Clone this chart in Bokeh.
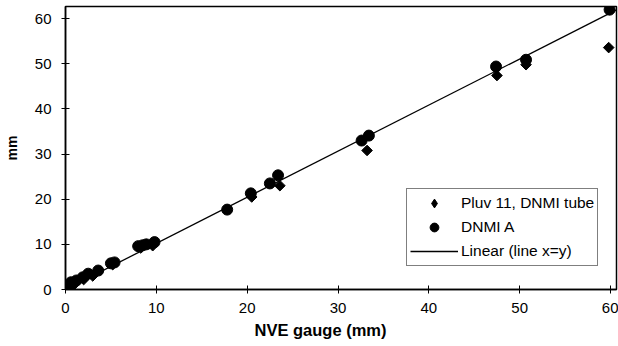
import numpy as np
from bokeh.plotting import figure
from bokeh.models import Legend, LegendItem, Range1d, FixedTicker, Title
from bokeh.embed import file_html
from bokeh.resources import INLINE

# DNMI A (circles)
dnmi_x = [0.1, 0.6, 1.2, 1.9, 2.5, 3.6, 5.0, 5.4, 8.0, 8.5, 8.9, 9.8, 17.8, 20.4, 22.5, 23.4, 32.6, 33.4, 47.4, 50.7, 59.9]
dnmi_y = [0.1, 1.6, 2.0, 2.7, 3.5, 4.2, 5.8, 6.0, 9.6, 9.8, 10.0, 10.5, 17.7, 21.3, 23.5, 25.3, 33.0, 34.1, 49.4, 50.9, 62.0]

# Pluv 11, DNMI tube (diamonds)
pluv_x = [0.4, 1.0, 2.0, 3.0, 5.2, 8.3, 9.6, 20.5, 23.6, 33.2, 47.5, 50.7, 59.8]
pluv_y = [0.2, 1.2, 2.2, 3.0, 5.5, 9.2, 9.7, 20.5, 23.0, 30.8, 47.4, 49.8, 53.6]

# Linear reference line
line_x = [0.0, 60.6]
line_y = [0.0, 61.9]

x_ticks = [0, 10, 20, 30, 40, 50, 60]
y_ticks = [0, 10, 20, 30, 40, 50, 60]

x_title = "NVE gauge (mm)"
y_title = "mm"
labels = ["Pluv 11, DNMI tube", "DNMI A", "Linear (line x=y)"]

p = figure(width=618, height=346, output_backend="svg", toolbar_location=None,
           x_range=Range1d(0, 60.66), y_range=Range1d(0, 62.7),
           min_border_left=64, min_border_right=2, min_border_top=6, min_border_bottom=57)

p.xgrid.visible = False
p.ygrid.visible = False
p.outline_line_color = "black"
p.outline_line_width = 1.5

r_line = p.line(line_x, line_y, line_color="black", line_width=1.3)
r_pluv = p.scatter(pluv_x, pluv_y, marker="square", angle=np.pi / 4, size=7.5,
                   fill_color="black", line_color="black")
# same series, drawn at zero size: gives the legend a diamond-shaped sample
r_pluv_key = p.scatter(pluv_x, pluv_y, marker="diamond", size=0,
                       fill_color="black", line_color="black")
r_dnmi = p.scatter(dnmi_x, dnmi_y, marker="circle", size=11,
                   fill_color="black", line_color="black")

font = "Liberation Sans"
for ax, ticks in ((p.xaxis[0], x_ticks), (p.yaxis[0], y_ticks)):
    ax.ticker = FixedTicker(ticks=ticks)
    ax.minor_tick_line_color = None
    ax.major_tick_in = 4
    ax.major_tick_out = 4
    ax.axis_line_width = 1.5
    ax.axis_line_color = "black"
    ax.major_tick_line_color = "black"
    ax.major_label_text_font = font
    ax.major_label_text_font_size = "15px"
    ax.major_label_text_color = "black"

p.xaxis.major_label_standoff = 9
p.yaxis.major_label_standoff = 10

p.yaxis.axis_label = y_title
p.yaxis.axis_label_text_font = font
p.yaxis.axis_label_text_font_size = "14px"
p.yaxis.axis_label_text_font_style = "bold"
p.yaxis.axis_label_text_color = "black"
p.yaxis.axis_label_standoff = 12

p.add_layout(Title(text=x_title, align="left", offset=189, standoff=7,
                   text_font=font, text_font_size="16.5px", text_font_style="bold",
                   text_color="black"), "below")

legend = Legend(items=[
    LegendItem(label=labels[0], renderers=[r_pluv_key]),
    LegendItem(label=labels[1], renderers=[r_dnmi]),
    LegendItem(label=labels[2], renderers=[r_line]),
], location=(341, 23))
legend.border_line_color = "black"
legend.border_line_width = 1
legend.background_fill_alpha = 1
legend.label_text_font = font
legend.label_text_font_size = "15.5px"
legend.label_text_color = "black"
legend.glyph_width = 48
legend.glyph_height = 22
legend.spacing = 2
legend.padding = 3
legend.margin = 0
legend.label_standoff = 3
p.add_layout(legend, "center")

open("out.html", "w").write(file_html(p, INLINE))
